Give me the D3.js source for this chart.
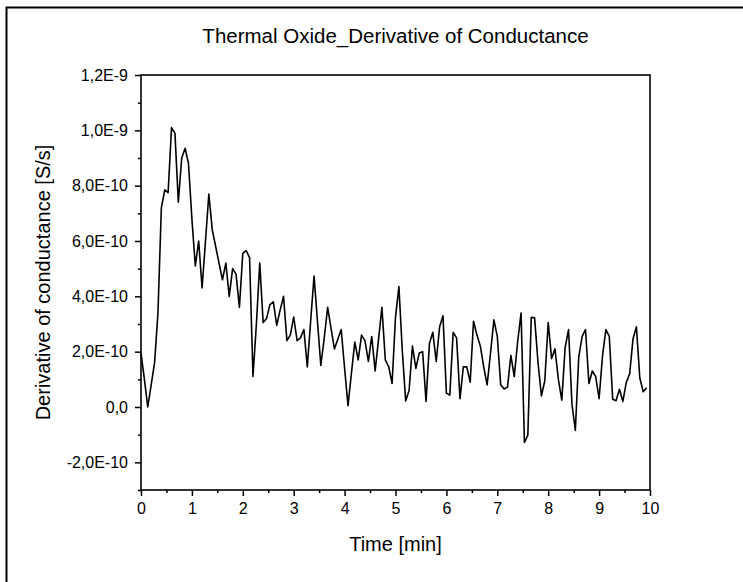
<!DOCTYPE html>
<html>
<head>
<meta charset="utf-8">
<script src="https://cdn.jsdelivr.net/npm/d3@7"></script>
<style>
    body { margin: 0; background: #fff; }
    svg text { font-family: "Liberation Sans", Arial, sans-serif; fill: #000; }
    .axis path { display: none; }
    .axis line { stroke: #000; stroke-width: 1.5; }
</style>
</head>
<body>
<div id="graphic"></div>
<script>

// time [min], one sample every 4 s
var times = [
    0, 0.067, 0.133, 0.2, 0.267, 0.333, 0.4, 0.467, 0.533, 0.6, 0.667, 0.733, 0.8, 0.867, 0.933,
    1, 1.067, 1.133, 1.2, 1.267, 1.333, 1.4, 1.467, 1.533, 1.6, 1.667, 1.733, 1.8, 1.867, 1.933,
    2, 2.067, 2.133, 2.2, 2.267, 2.333, 2.4, 2.467, 2.533, 2.6, 2.667, 2.733, 2.8, 2.867, 2.933,
    3, 3.067, 3.133, 3.2, 3.267, 3.333, 3.4, 3.467, 3.533, 3.6, 3.667, 3.733, 3.8, 3.867, 3.933,
    4, 4.067, 4.133, 4.2, 4.267, 4.333, 4.4, 4.467, 4.533, 4.6, 4.667, 4.733, 4.8, 4.867, 4.933,
    5, 5.067, 5.133, 5.2, 5.267, 5.333, 5.4, 5.467, 5.533, 5.6, 5.667, 5.733, 5.8, 5.867, 5.933,
    6, 6.067, 6.133, 6.2, 6.267, 6.333, 6.4, 6.467, 6.533, 6.6, 6.667, 6.733, 6.8, 6.867, 6.933,
    7, 7.067, 7.133, 7.2, 7.267, 7.333, 7.4, 7.467, 7.533, 7.6, 7.667, 7.733, 7.8, 7.867, 7.933,
    8, 8.067, 8.133, 8.2, 8.267, 8.333, 8.4, 8.467, 8.533, 8.6, 8.667, 8.733, 8.8, 8.867, 8.933,
    9, 9.067, 9.133, 9.2, 9.267, 9.333, 9.4, 9.467, 9.533, 9.6, 9.667, 9.733, 9.8, 9.867, 9.933
];

// derivative of conductance, in units of 1E-10 S/s
var derivative = [
    1.95, 1.0, 0.0, 0.8, 1.6, 3.4, 7.2, 7.85, 7.75, 10.1, 9.9, 7.4, 9.0, 9.35, 8.8,
    6.8, 5.1, 6.0, 4.3, 6.0, 7.7, 6.4, 5.8, 5.2, 4.6, 5.2, 4.0, 5.0, 4.8, 3.6,
    5.55, 5.65, 5.4, 1.1, 3.0, 5.2, 3.05, 3.2, 3.7, 3.8, 2.95, 3.5, 4.0, 2.4, 2.6,
    3.25, 2.4, 2.5, 2.8, 1.45, 3.1, 4.73, 3.1, 1.5, 2.5, 3.6, 2.85, 2.1, 2.45, 2.8,
    1.4, 0.05, 1.2, 2.35, 1.7, 2.6, 2.4, 1.65, 2.55, 1.3, 2.45, 3.6, 1.7, 1.45, 0.85,
    3.25, 4.35, 2.05, 0.22, 0.6, 2.2, 1.4, 1.95, 2.0, 0.2, 2.3, 2.7, 1.65, 2.9, 3.3,
    0.5, 0.43, 2.7, 2.5, 0.3, 1.45, 1.45, 0.9, 3.1, 2.6, 2.2, 1.45, 0.8, 1.95, 3.15,
    2.55, 0.8, 0.65, 0.72, 1.87, 1.1, 2.36, 3.4, -1.28, -1.02, 3.24, 3.22, 1.6, 0.4, 0.95,
    3.05, 1.75, 2.1, 1.0, 0.25, 2.15, 2.8, 0.1, -0.85, 1.8, 2.55, 2.8, 0.85, 1.3, 1.1,
    0.3, 1.85, 2.8, 2.55, 0.28, 0.23, 0.64, 0.2, 0.88, 1.2, 2.47, 2.9, 1.05, 0.55, 0.7
];

var xTicks = [0, 1, 2, 3, 4, 5, 6, 7, 8, 9, 10];
var yTicks = [-2, 0, 2, 4, 6, 8, 10, 12];
var yTickLabels = ["-2,0E-10", "0,0", "2,0E-10", "4,0E-10", "6,0E-10", "8,0E-10", "1,0E-9", "1,2E-9"];

var title = "Thermal Oxide_Derivative of Conductance";
var xTitle = "Time [min]";
var yTitle = "Derivative of conductance [S/s]";

function drawChart(){
    var w = 743, h = 582;
    var left = 141, right = 650, top = 75, bottom = 490;

    var svg = d3.select("#graphic")
        .append("svg")
        .attr("width", w)
        .attr("height", h);

    // outer frame of the graph page
    svg.append("rect")
        .attr("x", 6.5).attr("y", 7.5)
        .attr("width", 760).attr("height", 600)
        .attr("fill", "none")
        .attr("stroke", "#000")
        .attr("stroke-width", 2);

    var xScale = d3.scaleLinear().domain([0, 10]).range([left, right]);
    var yScale = d3.scaleLinear().domain([-3, 12]).range([bottom, top]);

    // minor ticks
    svg.append("g")
       .attr("class", "axis")
       .attr("transform", "translate(0," + bottom + ")")
       .call(d3.axisBottom(xScale).tickValues(d3.range(0.5, 10, 1)).tickSize(3).tickFormat(""));
    svg.append("g")
       .attr("class", "axis")
       .attr("transform", "translate(" + left + ",0)")
       .call(d3.axisLeft(yScale).tickValues(d3.range(-3, 12, 2)).tickSize(3).tickFormat(""));

    // major ticks + labels
    var xAxis = svg.append("g")
       .attr("class", "axis")
       .attr("transform", "translate(0," + bottom + ")")
       .call(d3.axisBottom(xScale).tickValues(xTicks).tickSize(6).tickPadding(7)
             .tickFormat(function(d){ return d; }));
    xAxis.selectAll("text").attr("font-size", 16).attr("font-family", null);

    var yAxis = svg.append("g")
       .attr("class", "axis")
       .attr("transform", "translate(" + left + ",0)")
       .call(d3.axisLeft(yScale).tickValues(yTicks).tickSize(6).tickPadding(7)
             .tickFormat(function(d, i){ return yTickLabels[i]; }));
    yAxis.selectAll("text").attr("font-size", 16).attr("font-family", null);

    // plot box
    svg.append("rect")
       .attr("x", left).attr("y", top)
       .attr("width", right - left).attr("height", bottom - top)
       .attr("fill", "none")
       .attr("stroke", "#000")
       .attr("stroke-width", 1.6);

    var line = d3.line()
        .x(function(d, i){ return xScale(times[i]); })
        .y(function(d){ return yScale(d); });

    svg.append("path")
       .datum(derivative)
       .attr("d", line)
       .attr("fill", "none")
       .attr("stroke", "#000")
       .attr("stroke-width", 1.6)
       .attr("stroke-linejoin", "round");

    svg.append("text")
       .attr("x", (left + right) / 2).attr("y", 43)
       .attr("text-anchor", "middle")
       .attr("font-size", 20.5)
       .text(title);

    svg.append("text")
       .attr("x", (left + right) / 2).attr("y", 551)
       .attr("text-anchor", "middle")
       .attr("font-size", 20)
       .text(xTitle);

    svg.append("text")
       .attr("transform", "translate(50," + (top + bottom) / 2 + ") rotate(-90)")
       .attr("text-anchor", "middle")
       .attr("font-size", 20)
       .text(yTitle);
}

drawChart();
</script>
</body>
</html>
